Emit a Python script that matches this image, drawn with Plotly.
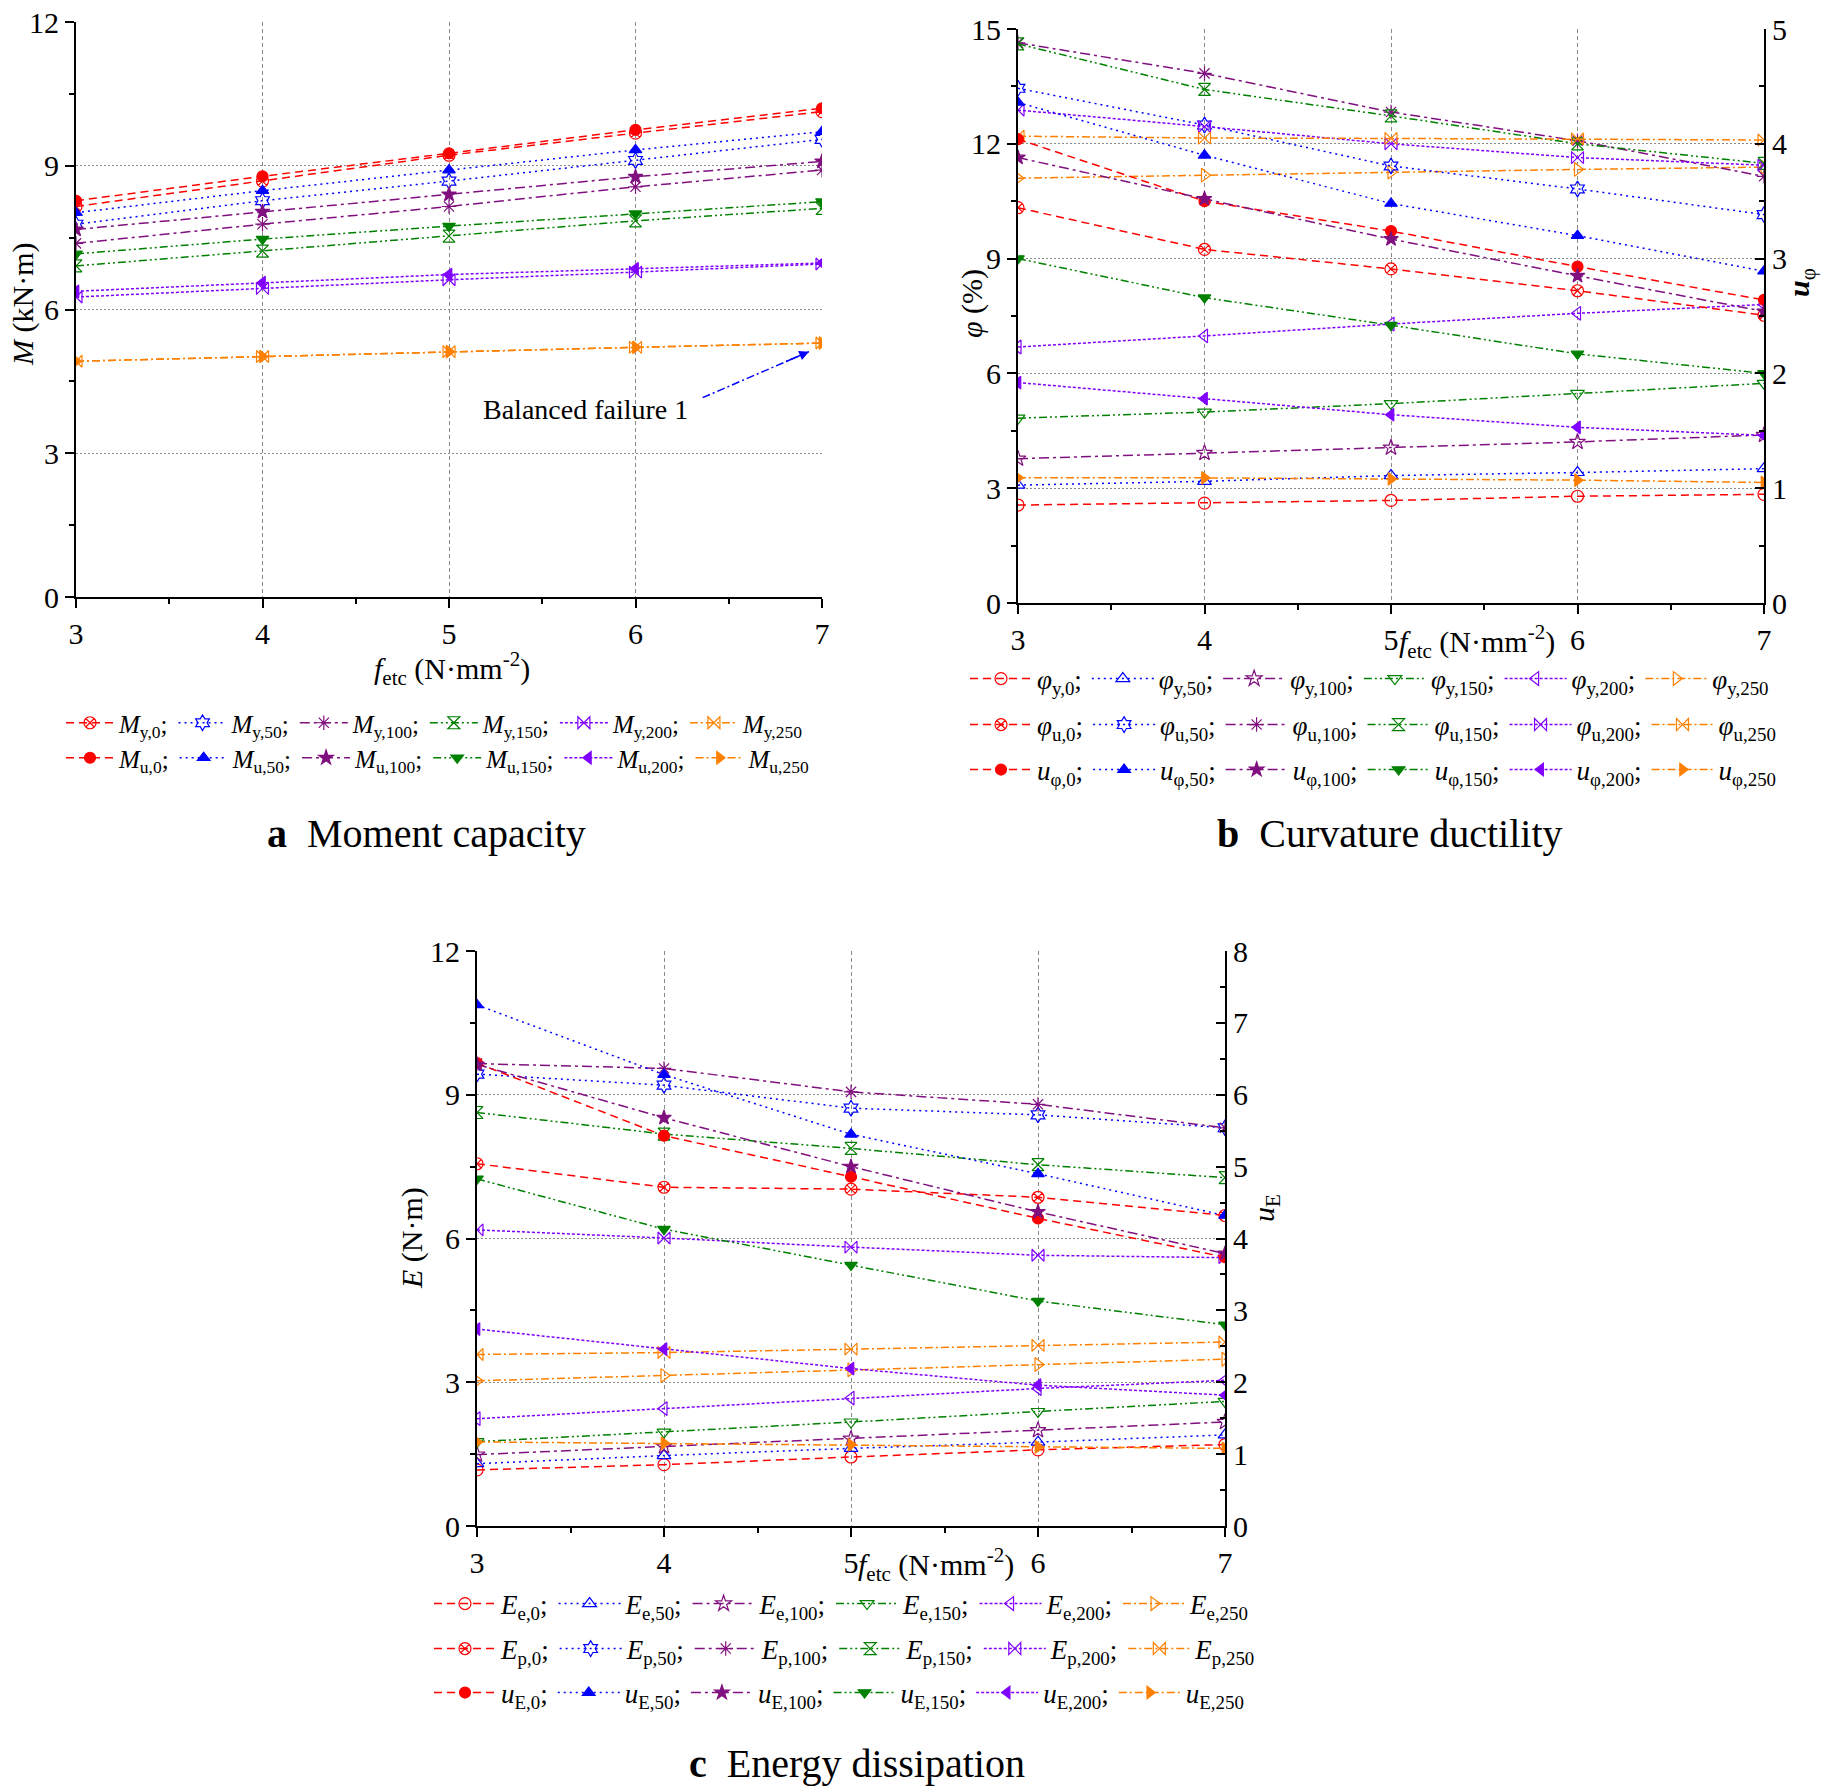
import plotly.graph_objects as go

W, H = 1841, 1789
FONT = "Liberation Serif"

fetc = [3, 4, 5, 6, 7]
groups = ["0", "50", "100", "150", "200", "250"]
x_ticks = [3, 4, 5, 6, 7]

# ---------------- panel a : moment capacity (kN·m) ----------------
M_y = [
    [8.15, 8.68, 9.22, 9.68, 10.13],
    [7.78, 8.27, 8.68, 9.11, 9.55],
    [7.38, 7.78, 8.15, 8.56, 8.91],
    [6.91, 7.22, 7.53, 7.85, 8.11],
    [6.26, 6.44, 6.62, 6.78, 6.95],
    [4.92, 5.02, 5.12, 5.21, 5.30],
]
M_u = [
    [8.27, 8.78, 9.26, 9.75, 10.20],
    [8.02, 8.48, 8.91, 9.33, 9.71],
    [7.67, 8.04, 8.40, 8.77, 9.09],
    [7.16, 7.47, 7.74, 8.00, 8.25],
    [6.38, 6.56, 6.73, 6.85, 6.97],
    [4.92, 5.02, 5.12, 5.21, 5.30],
]

# ---------------- panel b : curvature (%) and ductility ----------------
phi_y = [
    [2.56, 2.61, 2.68, 2.79, 2.84],
    [3.08, 3.18, 3.33, 3.41, 3.51],
    [3.77, 3.92, 4.06, 4.21, 4.39],
    [4.83, 4.99, 5.21, 5.48, 5.74],
    [6.69, 6.98, 7.29, 7.57, 7.80],
    [11.10, 11.18, 11.26, 11.33, 11.39],
]
phi_u = [
    [10.33, 9.24, 8.73, 8.16, 7.52],
    [13.45, 12.49, 11.42, 10.82, 10.15],
    [14.64, 13.84, 12.83, 12.08, 11.15],
    [14.61, 13.42, 12.73, 12.00, 11.49],
    [12.88, 12.45, 12.00, 11.64, 11.44],
    [12.20, 12.15, 12.14, 12.13, 12.10],
]
u_phi = [
    [4.04, 3.50, 3.24, 2.93, 2.64],
    [4.36, 3.90, 3.48, 3.20, 2.89],
    [3.88, 3.52, 3.17, 2.85, 2.54],
    [3.00, 2.66, 2.42, 2.17, 2.00],
    [1.92, 1.78, 1.64, 1.53, 1.46],
    [1.09, 1.09, 1.08, 1.07, 1.05],
]

# ---------------- panel c : energy (N·m) and ductility ----------------
E_e = [
    [1.17, 1.28, 1.44, 1.59, 1.70],
    [1.30, 1.47, 1.62, 1.75, 1.90],
    [1.49, 1.66, 1.82, 2.00, 2.17],
    [1.76, 1.96, 2.17, 2.39, 2.60],
    [2.24, 2.45, 2.67, 2.87, 3.04],
    [3.03, 3.14, 3.26, 3.37, 3.48],
]
E_p = [
    [7.56, 7.07, 7.03, 6.86, 6.48],
    [9.43, 9.20, 8.72, 8.58, 8.31],
    [9.65, 9.55, 9.06, 8.80, 8.31],
    [8.63, 8.18, 7.88, 7.54, 7.27],
    [6.18, 6.01, 5.82, 5.65, 5.60],
    [3.58, 3.62, 3.69, 3.77, 3.84],
]
u_E = [
    [6.44, 5.43, 4.86, 4.28, 3.74],
    [7.25, 6.28, 5.45, 4.90, 4.32],
    [6.42, 5.68, 5.00, 4.37, 3.79],
    [4.83, 4.13, 3.63, 3.13, 2.80],
    [2.74, 2.46, 2.19, 1.96, 1.82],
    [1.17, 1.15, 1.13, 1.10, 1.08],
]

# ---------------- styles ----------------
colors = ["#FF0000", "#0000FF", "#80107F", "#008000", "#8000FF", "#FF8000"]
dashes = ["8px,5px", "2px,4px", "10px,4px,3px,4px", "8px,3px,2px,3px,2px,3px",
          "3px,2px", "8px,3px,2px,3px"]
sym_open = ["circle-open", "triangle-up-open", "star-open", "triangle-down-open",
            "triangle-left-open", "triangle-right-open"]
sym_cross = ["circle-x-open", "hexagram-open", "asterisk-open", "hourglass-open",
             "bowtie-open", "bowtie-open"]
sym_fill = ["circle", "triangle-up", "star", "triangle-down", "triangle-left",
            "triangle-right"]


def px(x):
    return x / W


def py(y):
    return 1 - y / H


fig = go.Figure()


def add_series(xa, ya, values, labelfmt, symbols, legend, size):
    for i, g in enumerate(groups):
        name = labelfmt.format(g) + (";" if i < 5 else "")
        fig.add_trace(go.Scatter(
            x=fetc, y=values[i], xaxis=xa, yaxis=ya, mode="lines+markers",
            name=name, legend=legend,
            line=dict(color=colors[i], dash=dashes[i], width=1.5),
            marker=dict(symbol=symbols[i], size=size, color=colors[i],
                        line=dict(color=colors[i], width=1.2)),
        ))


add_series("x", "y", M_y, "<i>M</i><sub>y,{}</sub>", sym_cross, "legend", 12)
add_series("x", "y", M_u, "<i>M</i><sub>u,{}</sub>", sym_fill, "legend2", 11)

add_series("x2", "y2", phi_y, "<i>φ</i><sub>y,{}</sub>", sym_open, "legend3", 12)
add_series("x2", "y2", phi_u, "<i>φ</i><sub>u,{}</sub>", sym_cross, "legend4", 12)
add_series("x2", "y3", u_phi, "<i>u</i><sub>φ,{}</sub>", sym_fill, "legend5", 11)

add_series("x3", "y4", E_e, "<i>E</i><sub>e,{}</sub>", sym_open, "legend6", 12)
add_series("x3", "y4", E_p, "<i>E</i><sub>p,{}</sub>", sym_cross, "legend7", 12)
add_series("x3", "y5", u_E, "<i>u</i><sub>E,{}</sub>", sym_fill, "legend8", 11)

tickfont = dict(family=FONT, size=30, color="black")
grid = dict(showgrid=True, gridcolor="#8a8a8a", gridwidth=1)
tk = dict(ticklen=9, tickwidth=1.5, tickcolor="black")


def xaxis(domain, anchor):
    return dict(domain=domain, anchor=anchor, range=[3, 7], tickvals=x_ticks,
                showline=True, linecolor="black", linewidth=2, mirror=False,
                ticks="outside", **tk,
                minor=dict(ticks="outside", ticklen=5, dtick=0.5, tickcolor="black",
                           showgrid=False),
                tickfont=tickfont, griddash="4px,3px", zeroline=False, **grid)


def xtop(domain, anchor, overlay):
    return dict(domain=domain, anchor=anchor, overlaying=overlay, side="top",
                range=[3, 7], tickvals=x_ticks, showticklabels=False,
                showline=True, linecolor="black", linewidth=2,
                ticks="inside", **tk,
                minor=dict(ticks="inside", ticklen=5, dtick=0.5, tickcolor="black"),
                showgrid=False, zeroline=False)


def yaxis(domain, anchor, rng, dtick):
    return dict(domain=domain, anchor=anchor, range=rng, dtick=dtick,
                showline=True, linecolor="black", linewidth=2, mirror=False,
                ticks="outside", **tk,
                minor=dict(ticks="outside", ticklen=5, dtick=dtick / 2,
                           tickcolor="black", showgrid=False),
                tickfont=tickfont, griddash="2px,2px", zeroline=False, **grid)


def yright(domain, anchor, overlay, rng, dtick, labels):
    return dict(domain=domain, anchor=anchor, overlaying=overlay, side="right",
                range=rng, dtick=dtick, showline=True, linecolor="black",
                linewidth=2, ticks="inside", **tk, showticklabels=labels,
                minor=dict(ticks="inside", ticklen=5, dtick=dtick / 2,
                           tickcolor="black"),
                tickfont=tickfont, showgrid=False, zeroline=False)


dom_a_x = [px(76), px(822)]
dom_a_y = [py(597), py(22)]
dom_b_x = [px(1018), px(1764)]
dom_b_y = [py(603), py(29)]
dom_c_x = [px(477), px(1225)]
dom_c_y = [py(1526), py(951)]

legend_a = dict(orientation="h", xanchor="left", yanchor="middle",
                font=dict(family=FONT, size=25, color="black"),
                itemwidth=48, bgcolor="rgba(0,0,0,0)", tracegroupgap=0,
                traceorder="normal")
legend_bc = dict(legend_a, itemwidth=62,
                 font=dict(family=FONT, size=27, color="black"))

layout = dict(
    width=W, height=H,
    margin=dict(l=0, r=0, t=0, b=0, pad=0, autoexpand=False),
    paper_bgcolor="white", plot_bgcolor="white",
    font=dict(family=FONT, color="black"),
    showlegend=True,
    xaxis=xaxis(dom_a_x, "y"),
    yaxis=yaxis(dom_a_y, "x", [0, 12], 3),
    xaxis2=xaxis(dom_b_x, "y2"),
    yaxis2=yaxis(dom_b_y, "x2", [0, 15], 3),
    yaxis3=yright(dom_b_y, "x2", "y2", [0, 5], 1, True),
    xaxis3=xaxis(dom_c_x, "y4"),
    yaxis4=yaxis(dom_c_y, "x3", [0, 12], 3),
    yaxis5=yright(dom_c_y, "x3", "y4", [0, 8], 1, True),
    yaxis6=yright(dom_a_y, "x", "y", [0, 12], 3, False),
    xaxis4=xtop(dom_a_x, "y", "x"),
    xaxis5=xtop(dom_b_x, "y2", "x2"),
    xaxis6=xtop(dom_c_x, "y4", "x3"),
    legend=dict(x=px(61), y=py(723), **legend_a),
    legend2=dict(x=px(61), y=py(758), **legend_a),
    legend3=dict(x=px(965), y=py(679), **legend_bc),
    legend4=dict(x=px(965), y=py(725), **legend_bc),
    legend5=dict(x=px(965), y=py(770), **legend_bc),
    legend6=dict(x=px(429), y=py(1604), **legend_bc),
    legend7=dict(x=px(429), y=py(1649), **legend_bc),
    legend8=dict(x=px(429), y=py(1693), **legend_bc),
)
fig.update_layout(**layout)

xtitle = "<i>f</i><sub>etc</sub> (N·mm<sup>-2</sup>)"
annos = [
    dict(x=px(452), y=py(668), text=xtitle, size=30, angle=0),
    dict(x=px(1477), y=py(641), text=xtitle, size=30, angle=0),
    dict(x=px(936), y=py(1564), text=xtitle, size=30, angle=0),
    dict(x=px(23), y=py(305), text="<i>M</i> (kN·m)", size=30, angle=-90),
    dict(x=px(972), y=py(304), text="<i>φ</i> (%)", size=30, angle=-90),
    dict(x=px(1801), y=py(283), text="<b><i>u</i></b><sub>φ</sub>", size=30, angle=-90),
    dict(x=px(412), y=py(1238), text="<i>E</i> (N·m)", size=30, angle=-90),
    dict(x=px(1266), y=py(1208), text="<i>u</i><sub>E</sub>", size=30, angle=-90),
    dict(x=px(426), y=py(834), text="<b>a</b>\u00a0\u00a0Moment capacity", size=40, angle=0),
    dict(x=px(1390), y=py(834), text="<b>b</b>\u00a0\u00a0Curvature ductility", size=40, angle=0),
    dict(x=px(857), y=py(1763), text="<b>c</b>\u00a0\u00a0Energy dissipation", size=40, angle=0),
]
for a in annos:
    fig.add_annotation(x=a["x"], y=a["y"], xref="paper", yref="paper",
                       text=a["text"], showarrow=False, textangle=a["angle"],
                       xanchor="center", yanchor="middle",
                       font=dict(family=FONT, size=a["size"], color="black"))

# "Balanced failure 1" note in panel a
fig.add_annotation(x=5.73, y=3.92, xref="x", yref="y", text="Balanced failure 1",
                   showarrow=False, font=dict(family=FONT, size=28, color="black"))
fig.add_shape(type="line", xref="x", yref="y", x0=6.36, y0=4.16, x1=6.93, y1=5.12,
              line=dict(color="#0000FF", width=1.5, dash="8px,3px,2px,3px"))
fig.add_annotation(x=6.93, y=5.12, ax=6.80, ay=4.90, xref="x", yref="y",
                   axref="x", ayref="y", text="", showarrow=True, arrowhead=2,
                   arrowsize=1.3, arrowwidth=1.5, arrowcolor="#0000FF")

fig.write_html(
    "out.html",
    config={"displayModeBar": False},
    post_script="document.body.style.margin='0px';document.body.style.overflow='hidden';",
)
